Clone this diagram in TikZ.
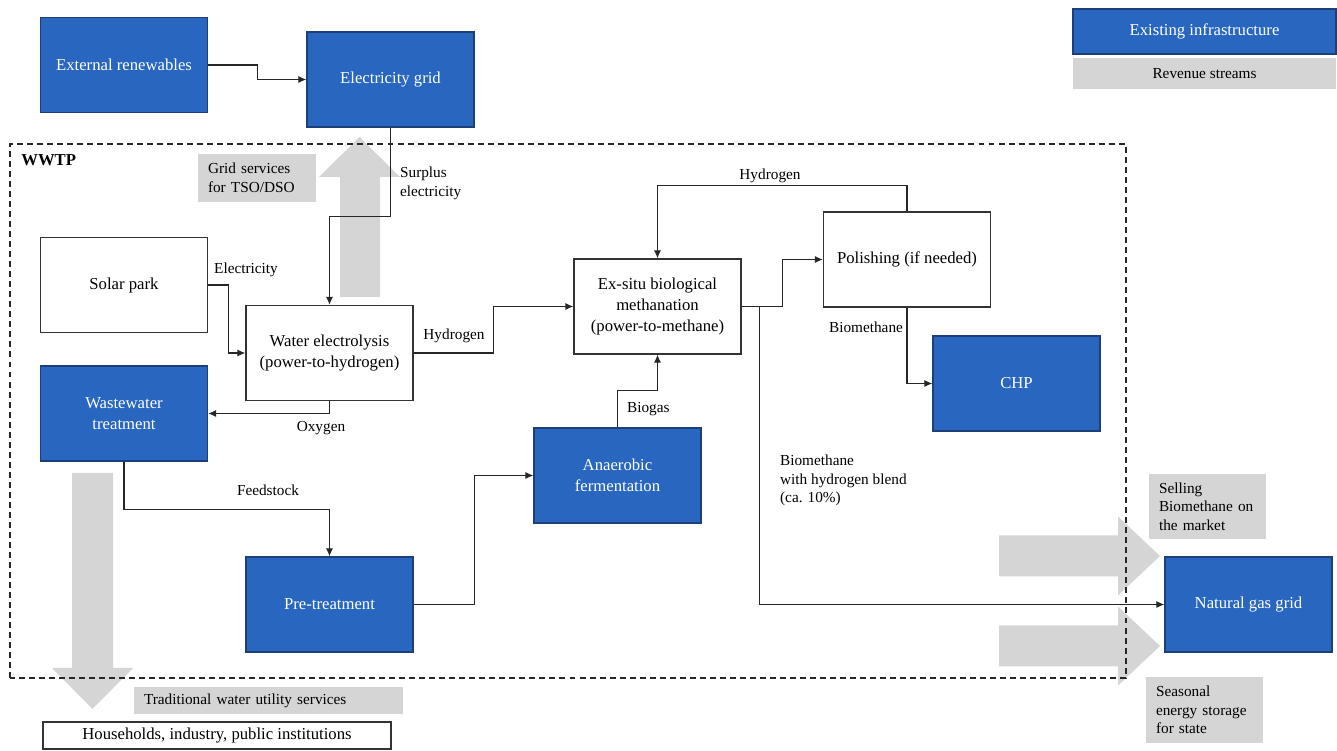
\documentclass[tikz,border=0pt]{standalone}
\usepackage{fontspec}
\setmainfont{Liberation Serif}
\usetikzlibrary{arrows.meta}
\definecolor{infblue}{HTML}{2866C0}
\definecolor{infedge}{HTML}{1C3F78}
\definecolor{revgray}{HTML}{D5D5D5}
\tikzset{
  infra/.style={draw=infedge, line width=0.8pt, fill=infblue, text=white,
    minimum width=3.34cm, minimum height=1.9cm, align=center,
    font=\fontsize{9.5}{11.8}\selectfont},
  proc/.style={draw=black!80, line width=0.8pt, fill=white,
    minimum width=3.34cm, minimum height=1.9cm, align=center,
    font=\fontsize{9.5}{11.8}\selectfont},
  revbox/.style={fill=revgray, inner xsep=0.2cm, inner ysep=0pt, align=left,
    font=\fontsize{8.7}{10.5}\selectfont},
  lbl/.style={font=\fontsize{8.7}{10.5}\selectfont, inner sep=1pt},
  flow/.style={draw=black!85, line width=0.6pt, -{Latex[length=4.5pt,width=4pt]}},
}

\begin{document}
\begin{tikzpicture}
  \useasboundingbox (0,0) rectangle (26.74,15.02);
  % Revenue arrows
  \fill[revgray] (6.8,9.08) -- (7.6,9.08) -- (7.6,11.48) -- (8.0,11.48)
    -- (7.19,12.28) -- (6.38,11.48) -- (6.8,11.48) -- cycle;
  \fill[revgray] (1.44,5.56) -- (2.26,5.56) -- (2.26,1.66) -- (2.66,1.66)
    -- (1.85,0.84) -- (1.04,1.66) -- (1.44,1.66) -- cycle;
  \foreach \yc in {3.9,2.1} {
    \fill[revgray] (19.98,\yc+0.41) -- (22.36,\yc+0.41) -- (22.36,\yc+0.79)
      -- (23.2,\yc) -- (22.36,\yc-0.79) -- (22.36,\yc-0.41) -- (19.98,\yc-0.41) -- cycle;
  }
  % WWTP boundary
  \draw[black!85, line width=0.8pt, dash pattern=on 3.4pt off 2.3pt]
    (0.2,1.46) rectangle (22.52,12.14);
  \node[anchor=west, font=\fontsize{9.5}{11}\selectfont\bfseries, inner sep=0pt]
    (wwtp) at (0.42,11.82) {WWTP};
  % Legend
  \node[infra, minimum width=5.26cm, minimum height=0.9cm] (legInf) at (24.09,14.39) {Existing infrastructure};
  \node[revbox, align=center, minimum width=5.26cm, minimum height=0.62cm] (legRev) at (24.09,13.55) {Revenue streams};
  % Outside the plant
  \node[infra] (ext) at (2.48,13.72) {External renewables};
  \node[infra] (grid) at (7.81,13.43) {Electricity grid};
  \node[infra] (ngg) at (24.97,2.93) {Natural gas grid};
  \node[draw=black!80, line width=0.8pt, minimum width=6.96cm, minimum height=0.54cm,
    inner sep=0pt, font=\fontsize{9.5}{11}\selectfont] (house) at (4.34,0.31)
    {Households, industry, public institutions};
  % Inside the plant
  \node[proc] (solar) at (2.48,9.32) {Solar park};
  \node[proc] (elec) at (6.59,7.96) {Water electrolysis\\(power-to-hydrogen)};
  \node[infra] (wwt) at (2.48,6.75) {Wastewater\\treatment};
  \node[infra] (pre) at (6.59,2.93) {Pre-treatment};
  \node[infra] (ana) at (12.35,5.51) {Anaerobic\\fermentation};
  \node[proc] (meth) at (13.15,8.89) {Ex-situ biological\\methanation\\(power-to-methane)};
  \node[proc] (pol) at (18.14,9.83) {Polishing (if needed)};
  \node[infra] (chp) at (20.33,7.35) {CHP};
  % Revenue streams
  \node[revbox, text width=1.96cm, minimum height=0.96cm] (gridsrv) at (5.14,11.46)
    {Grid services\\for TSO/DSO};
  \node[revbox, text width=1.94cm, minimum height=1.3cm] (sell) at (24.15,4.89)
    {Selling\\Biomethane on\\the market};
  \node[revbox, text width=1.94cm, minimum height=1.32cm] (store) at (24.09,0.82)
    {Seasonal\\energy storage\\for state};
  \node[revbox, text width=4.98cm, minimum height=0.54cm] (trad) at (5.37,1.01)
    {Traditional water utility services};
  % Flows
  \draw[flow] (ext.east) -- ++(0.98,0) |- (grid.west);
  \draw[flow] (grid.south) -- ++(0,-1.78) -| (elec.north);
  \draw[flow] (solar.east) -- ++(0.4,0) |- (elec.west);
  \draw[flow] (elec.east) -- ++(1.6,0) |- (meth.west);
  \draw[flow] (elec.south) |- (wwt.east);
  \draw[flow] (wwt.south) -- ++(0,-0.96) -| (pre.north);
  \draw[flow] (pre.east) -- ++(1.22,0) |- (ana.west);
  \draw[flow] (ana.north) -- ++(0,0.74) -| (meth.south);
  \draw[flow] (meth.east) -- ++(0.82,0) |- (pol.west);
  \draw[flow] (pol.north) -- ++(0,0.52) -| (meth.north);
  \draw[flow] (pol.south) |- (chp.west);
  \path (meth.east) ++(0.36,0) coordinate (split);
  \draw[flow] (split) |- (ngg.west);
  % Flow labels
  \node[lbl, anchor=north west, align=left] (lSurplus) at (7.96,11.72) {Surplus\\electricity};
  \node[lbl] (lElec) at (4.92,9.62) {Electricity};
  \node[lbl] (lHyd) at (9.08,8.30) {Hydrogen};
  \node[lbl] (lOxy) at (6.42,6.46) {Oxygen};
  \node[lbl] (lFeed) at (5.36,5.22) {Feedstock};
  \node[lbl, anchor=west] (lBiogas) at (12.5,6.84) {Biogas};
  \node[lbl] (lHydTop) at (15.4,11.5) {Hydrogen};
  \node[lbl] (lBiometh) at (17.32,8.48) {Biomethane};
  \node[lbl, anchor=north west, align=left] (lBlend) at (15.56,5.96)
    {Biomethane\\with hydrogen blend\\(ca. 10\%)};
\end{tikzpicture}
\end{document}
